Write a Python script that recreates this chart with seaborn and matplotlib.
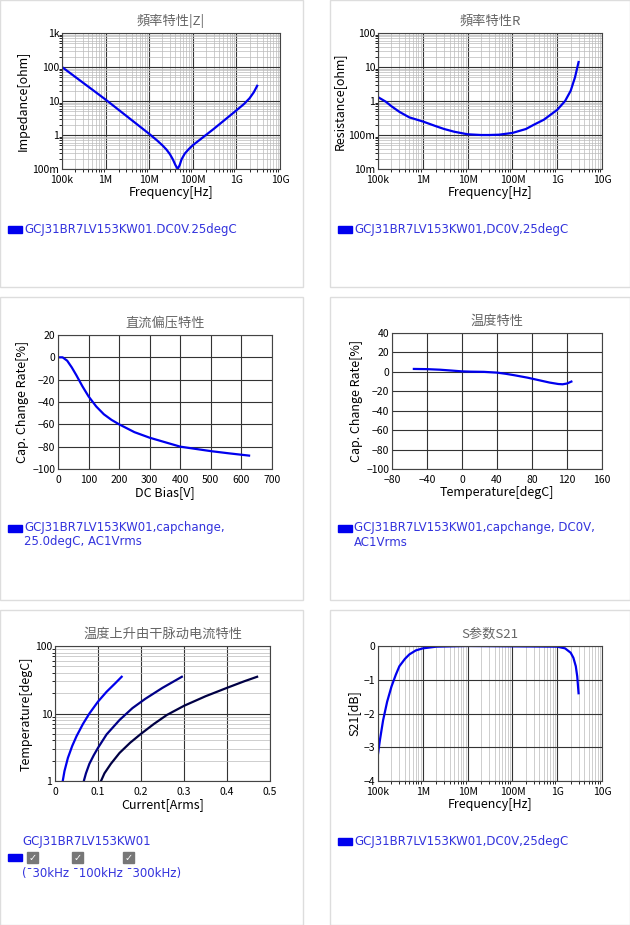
import matplotlib
matplotlib.use("Agg")
import matplotlib.pyplot as plt
import matplotlib.patches as mpatches
from matplotlib.ticker import LogLocator, NullFormatter
import seaborn as sns
import numpy as np

plt.rcParams["font.family"] = ["Noto Sans CJK SC"]

z_freq = [1e5, 1e6, 1e7, 1.5e7, 2e7, 2.5e7, 3e7, 3.5e7, 4e7, 4.5e7, 5e7, 5.5e7, 6.5e7, 8e7, 1e8, 3e8, 1e9, 1.5e9, 2e9, 2.5e9, 3e9]
z_val = [100, 11, 1.08, 0.7, 0.5, 0.37, 0.27, 0.19, 0.13, 0.1, 0.13, 0.19, 0.28, 0.38, 0.5, 1.5, 5.3, 8.2, 12, 18, 28]
r_freq = [1e5, 1.5e5, 2e5, 3e5, 5e5, 1e6, 2e6, 3e6, 5e6, 1e7, 2e7, 3e7, 5e7, 1e8, 2e8, 3e8, 5e8, 1e9, 1.5e9, 2e9, 2.5e9, 3e9]
r_val = [1.3, 0.95, 0.7, 0.48, 0.33, 0.25, 0.18, 0.15, 0.125, 0.105, 0.1, 0.1, 0.102, 0.115, 0.15, 0.2, 0.28, 0.55, 1.0, 2.0, 5.0, 14]
dc_v = [0, 15, 30, 45, 60, 80, 100, 125, 150, 175, 200, 250, 300, 350, 400, 450, 500, 560, 625]
dc_cap = [0, 0, -3, -9, -16, -26, -35, -44, -51, -56, -60, -67, -72, -76, -80, -82, -84, -86, -88]
t_deg = [-55, -40, -25, -10, 0, 10, 25, 40, 50, 60, 75, 90, 100, 110, 115, 120, 125]
t_cap = [3, 2.8, 2.2, 1.2, 0.5, 0.2, 0, -0.8, -2, -3.5, -6, -9, -11, -12.5, -12.8, -12, -10]
i30 = [0.018, 0.022, 0.03, 0.04, 0.05, 0.065, 0.08, 0.1, 0.12, 0.14, 0.155]
t30 = [1, 1.4, 2.2, 3.3, 4.6, 7, 10, 15, 21, 28, 35]
i100 = [0.067, 0.072, 0.08, 0.09, 0.1, 0.12, 0.15, 0.18, 0.21, 0.25, 0.295]
t100 = [1, 1.3, 1.8, 2.4, 3.1, 4.9, 8, 12, 16.5, 24, 35]
i300 = [0.107, 0.115, 0.13, 0.15, 0.175, 0.2, 0.23, 0.26, 0.3, 0.35, 0.4, 0.44, 0.47]
t300 = [1, 1.3, 1.8, 2.6, 3.7, 5, 7, 9.5, 13, 18, 24, 30, 35]
s_freq = [1e5, 1.1e5, 1.3e5, 1.6e5, 2e5, 2.5e5, 3e5, 4e5, 5e5, 7e5, 1e6, 2e6, 1e7, 1e9, 1.5e9, 2e9, 2.3e9, 2.6e9, 2.8e9, 3e9]
s_val = [-3.2, -2.8, -2.2, -1.65, -1.2, -0.85, -0.6, -0.38, -0.25, -0.13, -0.07, -0.02, 0, -0.02, -0.07, -0.2, -0.35, -0.6, -0.9, -1.4]

W, H = 630, 925
fig = plt.figure(figsize=(6.3, 9.25), dpi=100)

for (x0, y0, x1, y1) in [(0, 0, 303, 287), (330, 0, 630, 287), (0, 297, 303, 600),
                         (330, 297, 630, 600), (0, 610, 303, 925), (330, 610, 630, 925)]:
    fig.add_artist(mpatches.Rectangle((x0 / W, 1 - y1 / H), (x1 - x0) / W, (y1 - y0) / H,
                                      transform=fig.transFigure, fill=False, ec="#dddddd", lw=1))

def mkax(x0, y0, x1, y1):
    return fig.add_axes([x0 / W, 1 - y1 / H, (x1 - x0) / W, (y1 - y0) / H])

def style(ax, title, xl, yl):
    ax.set_title(title, fontsize=9.5, color="#666666", pad=6)
    ax.set_xlabel(xl, fontsize=9, labelpad=1)
    ax.set_ylabel(yl, fontsize=9, labelpad=2)
    ax.tick_params(labelsize=7.5, length=0, pad=2)
    ax.tick_params(axis="x", pad=4)
    for s in ax.spines.values():
        s.set_color("#444444")
    ax.grid(True, which="major", color="#333333", lw=0.8)
    ax.grid(True, which="minor", color="#bbbbbb", lw=0.5)
    ax.set_axisbelow(True)

def legend(x, y, lines):
    fig.add_artist(mpatches.Rectangle((x / W, 1 - (y + 4) / H), 14 / W, 7 / H,
                                      transform=fig.transFigure, color="#0000ee"))
    for i, t in enumerate(lines):
        fig.text((x + 16) / W, 1 - (y + 14 * i) / H, t, fontsize=8.5, color="#3333dd", va="center",
                 family="DejaVu Sans")

logfmt = ["100k", "1M", "10M", "100M", "1G", "10G"]
logx = [1e5, 1e6, 1e7, 1e8, 1e9, 1e10]

def logminor(ax, axes="xy"):
    for a in axes:
        axis = ax.xaxis if a == "x" else ax.yaxis
        axis.set_minor_locator(LogLocator(subs=np.arange(2, 10)))
        axis.set_minor_formatter(NullFormatter())

def ln(ax, x, y, c="#0000ee"):
    sns.lineplot(x=x, y=y, ax=ax, color=c, lw=1.6, sort=False)

ax = mkax(62, 33, 280, 169)
ln(ax, z_freq, z_val)
ax.set_xscale("log"); ax.set_yscale("log")
ax.set_xlim(1e5, 1e10); ax.set_ylim(0.1, 1000)
ax.set_xticks(logx); ax.set_xticklabels(logfmt)
ax.set_yticks([0.1, 1, 10, 100, 1000]); ax.set_yticklabels(["100m", "1", "10", "100", "1k"])
logminor(ax)
style(ax, "頻率特性|Z|", "Frequency[Hz]", "Impedance[ohm]")
legend(8, 229, ["GCJ31BR7LV153KW01.DC0V.25degC"])

ax = mkax(378, 33, 602, 169)
ln(ax, r_freq, r_val)
ax.set_xscale("log"); ax.set_yscale("log")
ax.set_xlim(1e5, 1e10); ax.set_ylim(0.01, 100)
ax.set_xticks(logx); ax.set_xticklabels(logfmt)
ax.set_yticks([0.01, 0.1, 1, 10, 100]); ax.set_yticklabels(["10m", "100m", "1", "10", "100"])
logminor(ax)
style(ax, "頻率特性R", "Frequency[Hz]", "Resistance[ohm]")
legend(338, 229, ["GCJ31BR7LV153KW01,DC0V,25degC"])

ax = mkax(58, 335, 272, 469)
ln(ax, dc_v, dc_cap)
ax.set_xlim(0, 700); ax.set_ylim(-100, 20)
ax.set_xticks(range(0, 701, 100)); ax.set_yticks(range(-100, 21, 20))
style(ax, "直流偏压特性", "DC Bias[V]", "Cap. Change Rate[%]")
legend(8, 528, ["GCJ31BR7LV153KW01,capchange,", "25.0degC, AC1Vrms"])

ax = mkax(392, 333, 602, 469)
ln(ax, t_deg, t_cap)
ax.set_xlim(-80, 160); ax.set_ylim(-100, 40)
ax.set_xticks(range(-80, 161, 40)); ax.set_yticks(range(-100, 41, 20))
style(ax, "温度特性", "Temperature[degC]", "Cap. Change Rate[%]")
legend(338, 528, ["GCJ31BR7LV153KW01,capchange, DC0V,", "AC1Vrms"])

ax = mkax(55, 646, 270, 781)
ln(ax, i30, t30, "#0000ee")
ln(ax, i100, t100, "#000088")
ln(ax, i300, t300, "#000044")
ax.set_yscale("log")
ax.set_xlim(0, 0.5); ax.set_ylim(1, 100)
ax.set_xticks([0, 0.1, 0.2, 0.3, 0.4, 0.5]); ax.set_xticklabels(["0", "0.1", "0.2", "0.3", "0.4", "0.5"])
ax.set_yticks([1, 10, 100]); ax.set_yticklabels(["1", "10", "100"])
logminor(ax, "y")
style(ax, "温度上升由干脉动电流特性", "Current[Arms]", "Temperature[degC]")
ax.grid(False, which="minor", axis="x")
fig.text(22 / W, 1 - 841 / H, "GCJ31BR7LV153KW01", fontsize=8.5, color="#3333dd", va="center", family="DejaVu Sans")
fig.add_artist(mpatches.Rectangle((8 / W, 1 - 861 / H), 14 / W, 7 / H, transform=fig.transFigure, color="#0000ee"))
for cx in [27, 72, 123]:
    fig.add_artist(mpatches.Rectangle((cx / W, 1 - 863 / H), 11 / W, 11 / H, transform=fig.transFigure, color="#777777"))
    fig.text((cx + 5.5) / W, 1 - 857.5 / H, "✓", fontsize=7, color="white", ha="center", va="center", family="DejaVu Sans")
fig.text(22 / W, 1 - 874 / H, "(\u02c930kHz \u02c9100kHz \u02c9300kHz)", fontsize=8.5, color="#3333dd", va="center", family="DejaVu Sans")

ax = mkax(378, 646, 602, 781)
ln(ax, s_freq, s_val)
ax.set_xscale("log")
ax.set_xlim(1e5, 1e10); ax.set_ylim(-4, 0)
ax.set_xticks(logx); ax.set_xticklabels(logfmt)
ax.set_yticks([-4, -3, -2, -1, 0])
logminor(ax, "x")
style(ax, "S参数S21", "Frequency[Hz]", "S21[dB]")
legend(338, 841, ["GCJ31BR7LV153KW01,DC0V,25degC"])

fig.savefig("out.png", dpi=100)
